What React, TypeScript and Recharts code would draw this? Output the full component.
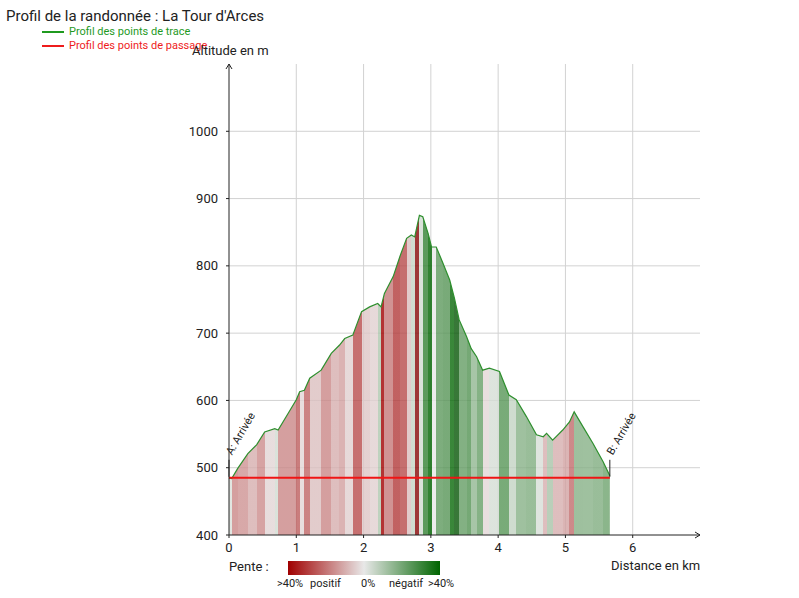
import {
  Area,
  ComposedChart,
  LabelList,
  Line,
  ReferenceLine,
  XAxis,
  YAxis,
} from "recharts";

// Profil de trace : distance (km) et altitude (m)
const distances = [
  0, 0.04, 0.13, 0.28, 0.41, 0.53, 0.68, 0.73, 0.88, 1.0, 1.05, 1.12, 1.2, 1.37,
  1.52, 1.64, 1.72, 1.84, 1.97, 2.09, 2.21, 2.26, 2.31, 2.44, 2.54, 2.64, 2.71,
  2.76, 2.83, 2.88, 2.96, 3.01, 3.08, 3.18, 3.28, 3.35, 3.42, 3.53, 3.6, 3.68,
  3.77, 3.87, 4.02, 4.16, 4.27, 4.42, 4.57, 4.67, 4.72, 4.81, 4.96, 5.06, 5.13,
  5.26, 5.41, 5.56, 5.66,
];
const altitudes = [
  485, 484, 499, 521, 534, 553, 558, 556, 581, 601, 613, 615, 633, 645, 670, 682,
  692, 697, 732, 739, 744, 739, 759, 784, 814, 841, 846, 843, 875, 873, 848, 828,
  828, 804, 779, 752, 720, 695, 677, 665, 645, 648, 643, 608, 601, 576, 549, 546,
  551, 541, 556, 568, 583, 561, 536, 509, 488,
];

// Points de passage
const passageDistances = [0, 5.66];
const passageAltitudes = [485, 485];
const passageNoms = ["A: Arrivée", "B: Arrivée"];

const xTicks = [0, 1, 2, 3, 4, 5, 6];
const yTicks = [400, 500, 600, 700, 800, 900, 1000];
const xDomain = [0, 7];
const yDomain = [400, 1100];

const trace = distances.map((d, i) => ({ d, alt: altitudes[i] }));
const passage = passageDistances.map((d, i) => ({
  d,
  alt: passageAltitudes[i],
  nom: passageNoms[i],
}));

const ROUGE = [160, 0, 0];
const NEUTRE = [232, 232, 232];
const VERT = [0, 100, 0];
const NOIR = [28, 28, 28];

function mix(a: number[], b: number[], t: number) {
  return a.map((v, i) => Math.round(v + (b[i] - v) * t));
}

// pente > 0 : montée (rouge), pente < 0 : descente (vert)
function couleurPente(p: number) {
  const abs = Math.abs(p);
  let c = mix(NEUTRE, p >= 0 ? ROUGE : VERT, Math.min(abs / 0.4, 1));
  if (abs > 0.4) c = mix(c, NOIR, Math.min((abs - 0.4) / 0.2, 1) * 0.7);
  return `rgb(${c[0]},${c[1]},${c[2]})`;
}

const dMax = distances[distances.length - 1];
const stops: { offset: number; color: string }[] = [];
for (let i = 0; i < distances.length - 1; i++) {
  const pente =
    (altitudes[i + 1] - altitudes[i]) / ((distances[i + 1] - distances[i]) * 1000);
  const color = couleurPente(pente);
  stops.push({ offset: distances[i] / dMax, color });
  stops.push({ offset: distances[i + 1] / dMax, color });
}

const FONT = "Roboto, 'Noto Sans', sans-serif";
const GRILLE = "#d2d2d2";

function FlecheY(props: any) {
  const vb = props.viewBox || {};
  const x = vb.x + vb.width;
  const y = vb.y;
  return (
    <path d={`M${x - 3},${y + 5} L${x},${y} L${x + 3},${y + 5}`} stroke="#222" fill="none" strokeWidth={1} />
  );
}

function FlecheX(props: any) {
  const vb = props.viewBox || {};
  const x = vb.x + vb.width;
  const y = vb.y;
  return (
    <path d={`M${x - 5},${y - 3} L${x},${y} L${x - 5},${y + 3}`} stroke="#222" fill="none" strokeWidth={1} />
  );
}

function EtiquettePassage(props: any) {
  const { x, y, value } = props;
  if (x == null || y == null) return null;
  const tx = x + 3;
  const ty = y - 22;
  return (
    <g>
      <line x1={x} y1={y - 1} x2={x} y2={y - 18} stroke="#222" strokeWidth={1} />
      <text
        x={tx}
        y={ty}
        fontSize={11}
        fill="#222"
        fontFamily={FONT}
        transform={`rotate(-60 ${tx} ${ty})`}
      >
        {value}
      </text>
    </g>
  );
}

export default function App() {
  return (
    <div
      style={{
        position: "absolute",
        left: 0,
        top: 0,
        width: 799,
        height: 598,
        background: "#fff",
        fontFamily: FONT,
        color: "#222",
      }}
    >
      <div style={{ position: "absolute", left: 6, top: 7, fontSize: 15, lineHeight: "18px" }}>
        Profil de la randonnée : La Tour d'Arces
      </div>

      {/* Légende des courbes */}
      <div style={{ position: "absolute", left: 42, top: 31, width: 22, height: 2, background: "#1f9a1f" }} />
      <div style={{ position: "absolute", left: 69, top: 25, fontSize: 11, lineHeight: "14px", color: "#1f9a1f" }}>
        Profil des points de trace
      </div>
      <div style={{ position: "absolute", left: 42, top: 45, width: 22, height: 2, background: "#ee1c1c" }} />
      <div style={{ position: "absolute", left: 69, top: 39, fontSize: 11, lineHeight: "14px", color: "#ee1c1c" }}>
        Profil des points de passage
      </div>

      <div style={{ position: "absolute", left: 0, top: 0 }}>
        <ComposedChart
          width={799}
          height={598}
          data={trace}
          margin={{ top: 64, right: 99, bottom: 33, left: 169 }}
        >
          <defs>
            <linearGradient id="pente" x1="0" y1="0" x2="1" y2="0">
              {stops.map((s, i) => (
                <stop key={i} offset={s.offset} stopColor={s.color} />
              ))}
            </linearGradient>
          </defs>
          {/* grille sur les graduations seulement */}
          {xTicks.slice(1).map((v) => (
            <ReferenceLine key={"gx" + v} x={v} stroke={GRILLE} strokeWidth={1} zIndex={-100} />
          ))}
          {yTicks.slice(1).map((v) => (
            <ReferenceLine key={"gy" + v} y={v} stroke={GRILLE} strokeWidth={1} zIndex={-100} />
          ))}
          <XAxis
            type="number"
            dataKey="d"
            domain={xDomain}
            ticks={xTicks}
            height={30}
            stroke="#222"
            tickSize={3}
            tickMargin={5}
            tick={{ fill: "#222", fontSize: 13, fontFamily: FONT }}
            label={{ content: <FlecheX /> }}
          />
          <YAxis
            type="number"
            domain={yDomain}
            ticks={yTicks}
            width={60}
            stroke="#222"
            tickSize={3}
            tickMargin={8}
            tick={{ fill: "#222", fontSize: 13, fontFamily: FONT }}
            label={{ content: <FlecheY /> }}
          />
          <Area
            dataKey="alt"
            type="linear"
            stroke="#2e8f2e"
            strokeWidth={1.2}
            fill="url(#pente)"
            fillOpacity={0.8}
            isAnimationActive={false}
          />
          <Line
            data={passage}
            dataKey="alt"
            type="linear"
            stroke="#f01414"
            strokeWidth={2}
            dot={false}
            isAnimationActive={false}
          >
            <LabelList dataKey="nom" content={<EtiquettePassage />} />
          </Line>
        </ComposedChart>
      </div>

      <div style={{ position: "absolute", left: 192, top: 43, fontSize: 13, lineHeight: "16px" }}>
        Altitude en m
      </div>
      <div style={{ position: "absolute", left: 611, top: 558, fontSize: 13, lineHeight: "16px" }}>
        Distance en km
      </div>

      {/* Légende de la pente */}
      <div style={{ position: "absolute", left: 229, top: 559, fontSize: 13, lineHeight: "16px" }}>
        Pente :
      </div>
      <div
        style={{
          position: "absolute",
          left: 288,
          top: 561,
          width: 152,
          height: 14,
          background: "linear-gradient(to right, #a00000, #e8e8e8, #006400)",
        }}
      />
      <div style={{ position: "absolute", left: 277, top: 577, fontSize: 11, lineHeight: "13px" }}>&gt;40%</div>
      <div style={{ position: "absolute", left: 310, top: 577, fontSize: 11, lineHeight: "13px" }}>positif</div>
      <div style={{ position: "absolute", left: 361, top: 577, fontSize: 11, lineHeight: "13px" }}>0%</div>
      <div style={{ position: "absolute", left: 389, top: 577, fontSize: 11, lineHeight: "13px" }}>négatif</div>
      <div style={{ position: "absolute", left: 428, top: 577, fontSize: 11, lineHeight: "13px" }}>&gt;40%</div>
    </div>
  );
}
